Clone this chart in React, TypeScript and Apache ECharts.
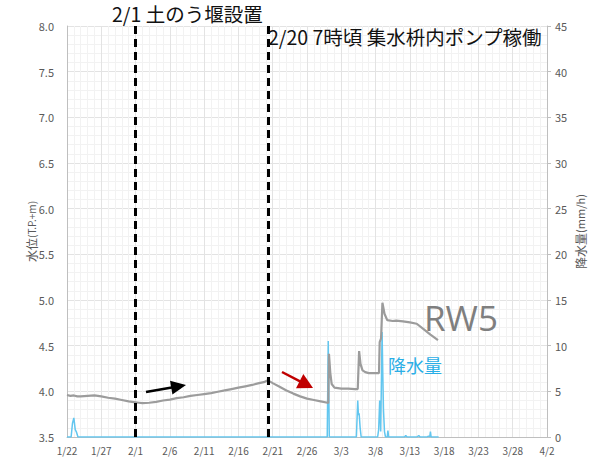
import React, { useEffect, useRef } from "react";
import * as echarts from "echarts";

// x = days since 1/22
const xLabels = ["1/22", "1/27", "2/1", "2/6", "2/11", "2/16", "2/21", "2/26", "3/3", "3/8", "3/13", "3/18", "3/23", "3/28", "4/2"];

// event markers (days since 1/22): 2/1, 2/20 7:00
const eventDays = [10, 29.29];

// water level RW5 (T.P.+m)
const waterLevel: [number, number][] = [
  [0, 3.96], [0.5, 3.95], [1, 3.955], [1.5, 3.945], [2, 3.945], [3, 3.95], [4, 3.955], [4.5, 3.95],
  [5, 3.945], [6, 3.93], [7, 3.92], [8, 3.905], [9, 3.89], [10, 3.88], [10.5, 3.875], [11, 3.87],
  [12, 3.875], [13, 3.885], [14, 3.9], [15, 3.91], [16, 3.925], [17, 3.935], [18, 3.95], [19, 3.96],
  [20, 3.97], [21, 3.98], [22, 3.995], [23, 4.01], [24, 4.025], [25, 4.04], [26, 4.055], [27, 4.07],
  [28, 4.09], [28.7, 4.1], [29.3, 4.12], [30, 4.09], [31, 4.05], [32, 4.01], [33, 3.975], [34, 3.945],
  [35, 3.92], [36, 3.905], [37, 3.89], [38, 3.875], [38.1, 3.87],
  [38.2, 4.41], [38.4, 4.2], [38.6, 4.08], [39, 4.04], [39.5, 4.035], [40, 4.03], [41, 4.03], [42, 4.025], [42.4, 4.025],
  [42.6, 4.44], [42.8, 4.3], [43.1, 4.23], [43.5, 4.21], [44, 4.2], [45, 4.2], [45.5, 4.2],
  [45.6, 4.54], [45.8, 4.58], [46.0, 4.97], [46.3, 4.85], [46.7, 4.78], [47.5, 4.77], [48, 4.775], [49, 4.765],
  [50, 4.755], [51, 4.74], [52, 4.68], [53, 4.62], [54.1, 4.56]
];

// rainfall (mm/h)
const rainfall: [number, number][] = [
  [0, 0], [0.6, 0], [0.8, 1.5], [1.0, 2.1], [1.2, 0.8], [1.4, 0.5], [1.6, 0],
  [37.95, 0], [38.1, 10.5], [38.25, 0],
  [42.2, 0], [42.4, 4.0], [42.5, 2.4], [42.6, 2.6], [42.75, 1.0], [42.9, 0],
  [45.3, 0], [45.45, 0.8], [45.6, 4.0], [45.75, 0.6], [45.95, 11.5], [46.05, 7.0], [46.15, 3.0],
  [46.3, 0.6], [46.45, 0], [46.7, 0], [46.8, 0.7], [46.9, 0],
  [49.2, 0], [49.4, 0.15], [49.6, 0], [51, 0], [51.3, 0.15], [51.5, 0], [52.5, 0], [52.7, 0.1],
  [52.9, 0], [53.0, 0.6], [53.1, 0], [54.2, 0]
];

export default function App() {
  const ref = useRef<HTMLDivElement>(null);
  useEffect(() => {
    if (!ref.current) return;
    const chart = echarts.init(ref.current, null, { renderer: "svg" });
    const font = "'Noto Sans CJK JP', 'Noto Sans', sans-serif";
    const labelColor = "#595959";
    const arrowB = { sx: 146, sy: 392, tx: 186, ty: 385 };
    const arrowR = { sx: 282, sy: 372, tx: 313, ty: 388 };
    const head = (a: any, len: number, hw: number) => {
      const dx = a.tx - a.sx, dy = a.ty - a.sy;
      const l = Math.hypot(dx, dy);
      const ux = dx / l, uy = dy / l;
      const bx = a.tx - ux * len, by = a.ty - uy * len;
      return {
        base: [bx + ux * 2, by + uy * 2],
        pts: [[a.tx, a.ty], [bx - uy * hw, by + ux * hw], [bx + uy * hw, by - ux * hw]]
      };
    };
    const hb = head(arrowB, 15, 7);
    const hr = head(arrowR, 15, 8);
    const textStyle = (extra: any) => ({
      fontFamily: font,
      stroke: "none",
      lineWidth: 0,
      lineDash: null,
      ...extra
    });
    chart.setOption({
      animation: false,
      textStyle: { fontFamily: font },
      grid: { left: 67, right: 50, top: 26, bottom: 21, containLabel: false },
      xAxis: {
        type: "value",
        min: 0,
        max: 70,
        interval: 5,
        axisLine: { show: true, lineStyle: { color: "#BFBFBF" } },
        axisTick: { show: false },
        axisLabel: {
          color: labelColor,
          fontSize: 10,
          margin: 8,
          formatter: (v: number) => xLabels[Math.round(v / 5)] ?? ""
        },
        splitLine: { show: true, lineStyle: { color: "#E3E3E3", width: 1 } },
        minorTick: { show: false, splitNumber: 5 },
        minorSplitLine: { show: true, lineStyle: { color: "#F2F2F2", width: 1 } }
      },
      yAxis: [
        {
          type: "value",
          min: 3.5,
          max: 8,
          interval: 0.5,
          name: "{a|水位}{b|(T.P.+m)}",
          nameLocation: "middle",
          nameRotate: 90,
          nameGap: 30,
          nameMoveOverlap: false,
          nameTextStyle: {
            rich: {
              a: { fontSize: 12, color: labelColor, fontFamily: font },
              b: { fontSize: 10, color: labelColor, fontFamily: font }
            }
          },
          axisLine: { show: true, lineStyle: { color: "#BFBFBF" } },
          axisTick: { show: false },
          axisLabel: { color: labelColor, fontSize: 11, margin: 13, formatter: (v: number) => v.toFixed(1) },
          splitLine: { show: true, lineStyle: { color: "#E3E3E3" } },
          minorTick: { show: false, splitNumber: 5 },
          minorSplitLine: { show: true, lineStyle: { color: "#F2F2F2" } }
        },
        {
          type: "value",
          min: 0,
          max: 45,
          interval: 5,
          position: "right",
          name: "{a|降水量}{b|(mm/h)}",
          nameLocation: "middle",
          nameRotate: 90,
          nameGap: 27,
          nameMoveOverlap: false,
          nameTextStyle: {
            rich: {
              a: { fontSize: 12, color: labelColor, fontFamily: font },
              b: { fontSize: 11, color: labelColor, fontFamily: font }
            }
          },
          axisLine: { show: true, lineStyle: { color: "#BFBFBF" } },
          axisTick: { show: true, length: 4, lineStyle: { color: "#BFBFBF" } },
          axisLabel: { color: labelColor, fontSize: 11, margin: 8 },
          splitLine: { show: false }
        }
      ],
      series: [
        {
          name: "降水量",
          type: "line",
          yAxisIndex: 1,
          data: rainfall,
          symbol: "none",
          lineStyle: { color: "#62C6EF", width: 1.5 },
          z: 3
        },
        {
          name: "RW5",
          type: "line",
          yAxisIndex: 0,
          data: waterLevel,
          symbol: "none",
          lineStyle: { color: "#9C9C9C", width: 2.2 },
          z: 4,
          markLine: {
            silent: true,
            symbol: ["none", "none"],
            label: { show: false },
            lineStyle: { color: "#000000", width: 3, type: [8, 5] },
            data: eventDays.map((d) => ({ xAxis: d }))
          }
        }
      ],
      graphic: [
        {
          type: "text",
          left: 112,
          top: 4,
          z: 10,
          style: textStyle({ text: "2/1 土のう堰設置", fontSize: 19.5, fill: "#111111" })
        },
        {
          type: "text",
          left: 268,
          top: 27,
          z: 10,
          style: textStyle({ text: "2/20 7時頃 集水枡内ポンプ稼働", fontSize: 19.5, fill: "#111111" })
        },
        {
          type: "text",
          left: 424,
          top: 300,
          z: 10,
          style: textStyle({ text: "RW5", fontSize: 35, fill: "#7F7F7F", fontFamily: "'Open Sans', 'Noto Sans', sans-serif" })
        },
        {
          type: "text",
          left: 388,
          top: 356,
          z: 10,
          style: textStyle({ text: "降水量", fontSize: 18, fill: "#2AAEE6" })
        },
        {
          type: "polyline",
          z: 10,
          shape: { points: [[arrowB.sx, arrowB.sy], hb.base] },
          style: { stroke: "#000000", lineWidth: 2.5, lineDash: "solid", fill: "none" }
        },
        {
          type: "polygon",
          z: 10,
          shape: { points: hb.pts },
          style: { fill: "#000000", stroke: "none", lineDash: "solid" }
        },
        {
          type: "polyline",
          z: 10,
          shape: { points: [[arrowR.sx, arrowR.sy], hr.base] },
          style: { stroke: "#C00000", lineWidth: 2.5, lineDash: "solid", fill: "none" }
        },
        {
          type: "polygon",
          z: 10,
          shape: { points: hr.pts },
          style: { fill: "#C00000", stroke: "none", lineDash: "solid" }
        }
      ]
    });
    return () => chart.dispose();
  }, []);
  return (
    <div
      ref={ref}
      style={{ position: "absolute", left: 0, top: 0, width: 597, height: 458 }}
    />
  );
}
